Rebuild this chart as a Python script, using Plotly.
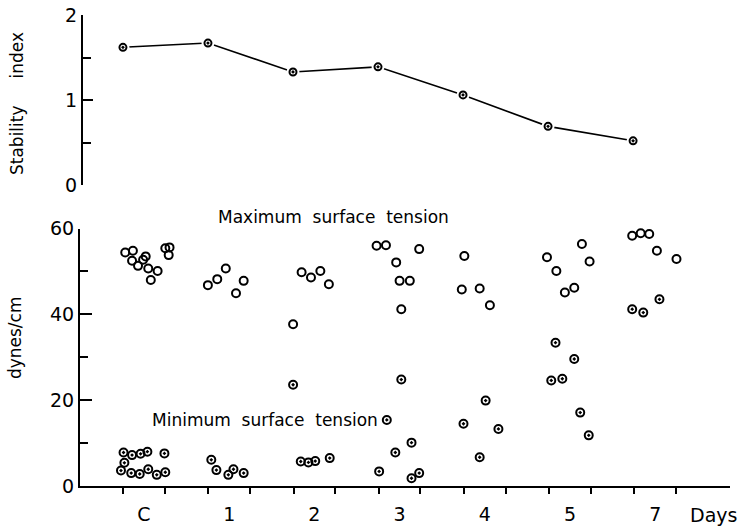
import plotly.graph_objects as go

# ---------------- data ----------------
day_labels = ["C", "1", "2", "3", "4", "5", "7"]
day_index = [0, 1, 2, 3, 4, 5, 6]

# Top panel: stability index per day
stability = [1.62, 1.67, 1.33, 1.39, 1.06, 0.69, 0.52]

# Bottom panel: maximum surface tension (dynes/cm), group index and within-group spread
max_group = [0]*12 + [1]*5 + [2]*5 + [3]*7 + [4]*4 + [5]*6 + [6]*5
max_spread = [-0.22, -0.13, -0.14, -0.07, -0.01, 0.02, 0.05, 0.08, 0.16, 0.25, 0.30, 0.29,
              -0.25, -0.14, -0.04, 0.08, 0.17,
              -0.15, -0.04, 0.07, 0.17, -0.25,
              -0.27, -0.16, -0.04, 0.00, 0.12, 0.02, 0.23,
              -0.24, -0.27, -0.06, 0.06,
              -0.27, -0.16, -0.06, 0.05, 0.14, 0.23,
              -0.27, -0.17, -0.07, 0.02, 0.25]
max_tension = [54.4, 54.8, 52.5, 51.3, 52.7, 53.5, 50.7, 48.0, 50.1, 55.4, 55.6, 53.8,
               46.8, 48.2, 50.7, 44.9, 47.8,
               49.8, 48.6, 50.1, 47.0, 37.7,
               56.0, 56.1, 52.1, 47.8, 47.8, 41.2, 55.2,
               53.6, 45.8, 46.0, 42.1,
               53.3, 50.1, 45.1, 46.2, 56.4, 52.3,
               58.3, 58.9, 58.7, 54.8, 52.9]

# Bottom panel: minimum surface tension (dynes/cm)
min_group = [0]*12 + [1]*5 + [2]*5 + [3]*7 + [4]*4 + [5]*6 + [6]*3
min_spread = [-0.24, -0.14, -0.04, 0.04, 0.24, -0.23, -0.27, -0.15, -0.05, 0.05, 0.15, 0.25,
              -0.21, -0.15, -0.01, 0.05, 0.17,
              -0.16, -0.07, 0.01, 0.18, -0.25,
              -0.15, -0.24, -0.05, 0.14, 0.14, 0.23, 0.02,
              0.01, -0.25, 0.16, -0.06,
              -0.17, 0.05, -0.22, -0.09, 0.12, 0.22,
              -0.27, -0.14, 0.05]
min_tension = [7.8, 7.2, 7.5, 8.0, 7.6, 5.4, 3.6, 3.0, 2.8, 3.9, 2.6, 3.2,
               6.1, 3.7, 2.6, 3.9, 3.0,
               5.7, 5.5, 5.8, 6.5, 23.6,
               15.4, 3.4, 7.8, 10.1, 1.8, 3.0, 24.8,
               19.9, 14.5, 13.3, 6.7,
               33.4, 29.6, 24.6, 25.0, 17.1, 11.8,
               41.2, 40.4, 43.5]

y_major = [0, 20, 40, 60]
y_minor = [10, 30, 50]
s_major = [0, 1, 2]
s_minor = [0.5, 1.5]
half_width = 0.245

# ---------------- figure ----------------
FONT = "DejaVu Sans"
fig = go.Figure()

# top panel: line, white gap discs, markers
fig.add_trace(go.Scatter(x=day_index, y=stability, xaxis="x2", yaxis="y2", mode="lines",
                         line=dict(color="black", width=1.6), hoverinfo="skip"))
fig.add_trace(go.Scatter(x=day_index, y=stability, xaxis="x2", yaxis="y2", mode="markers",
                         marker=dict(symbol="circle", size=13, color="white"), hoverinfo="skip"))
fig.add_trace(go.Scatter(x=day_index, y=stability, xaxis="x2", yaxis="y2", mode="markers",
                         marker=dict(symbol="circle-open-dot", size=7, color="black",
                                     line=dict(width=2)), cliponaxis=False))

# bottom panel
fig.add_trace(go.Scatter(x=[g + s for g, s in zip(max_group, max_spread)], y=max_tension,
                         mode="markers", cliponaxis=False,
                         marker=dict(symbol="circle-open", size=8, color="black",
                                     line=dict(width=2))))
fig.add_trace(go.Scatter(x=[g + s for g, s in zip(min_group, min_spread)], y=min_tension,
                         mode="markers", cliponaxis=False,
                         marker=dict(symbol="circle-open-dot", size=8, color="black",
                                     line=dict(width=2))))

bound_ticks = [g + s * half_width for g in day_index for s in (-1, 1)]

fig.update_layout(
    width=741, height=530,
    margin=dict(l=80, r=11, t=15, b=44, autoexpand=False),
    paper_bgcolor="white", plot_bgcolor="white",
    showlegend=False,
    font=dict(family=FONT, color="black", size=18),
    xaxis=dict(domain=[0, 1], range=[-0.751, 6.878], anchor="y", automargin=False,
               showline=True, linecolor="black", linewidth=2,
               showgrid=False, zeroline=False,
               tickmode="array", tickvals=day_index, ticktext=day_labels,
               ticks="", ticklabelstandoff=10,
               tickfont=dict(family=FONT, size=19),
               minor=dict(tickmode="array", tickvals=bound_ticks, ticks="outside",
                          ticklen=6, tickwidth=2, tickcolor="black", showgrid=False)),
    yaxis=dict(domain=[0, 0.5467], range=[0, 60], anchor="x", automargin=False,
               showline=True, linecolor="black", linewidth=2,
               showgrid=False, zeroline=False,
               tickmode="array", tickvals=y_major, ticks="inside", ticklen=12,
               tickwidth=2, tickcolor="black", tickfont=dict(family=FONT, size=19),
               minor=dict(tickmode="array", tickvals=y_minor, ticks="inside",
                          ticklen=8, tickwidth=2, tickcolor="black", showgrid=False)),
    xaxis2=dict(domain=[0.0046, 1], range=[-0.47, 7.14], anchor="y2", automargin=False,
                visible=False, showgrid=False, zeroline=False),
    yaxis2=dict(domain=[0.639, 1.0], range=[0, 2], anchor="x2", automargin=False,
                showline=True, linecolor="black", linewidth=2,
                showgrid=False, zeroline=False,
                tickmode="array", tickvals=s_major, ticks="inside", ticklen=10,
                tickwidth=2, tickcolor="black", tickfont=dict(family=FONT, size=19),
                minor=dict(tickmode="array", tickvals=s_minor, ticks="inside",
                           ticklen=8, tickwidth=2, tickcolor="black", showgrid=False)),
    annotations=[
        dict(text="Stability\u00a0\u00a0\u00a0\u00a0\u00a0index", textangle=-90,
             xref="paper", yref="paper", x=-0.097, y=0.813,
             xanchor="center", yanchor="middle", showarrow=False,
             font=dict(family=FONT, size=17)),
        dict(text="dynes/cm", textangle=-90,
             xref="paper", yref="paper", x=-0.1, y=0.314,
             xanchor="center", yanchor="middle", showarrow=False,
             font=dict(family=FONT, size=17)),
        dict(text="Days", xref="paper", yref="paper", x=0.975, y=-0.062,
             xanchor="center", yanchor="middle", showarrow=False,
             font=dict(family=FONT, size=19)),
        dict(text="Maximum\u00a0\u00a0surface\u00a0\u00a0tension", xref="x", yref="paper",
             x=2.22, y=0.572, xanchor="center", yanchor="middle", showarrow=False,
             font=dict(family=FONT, size=17)),
        dict(text="Minimum\u00a0\u00a0surface\u00a0\u00a0tension", xref="x", yref="y",
             x=1.42, y=15.4, xanchor="center", yanchor="middle", showarrow=False,
             font=dict(family=FONT, size=17)),
    ],
)

fig.write_html("out.html")
